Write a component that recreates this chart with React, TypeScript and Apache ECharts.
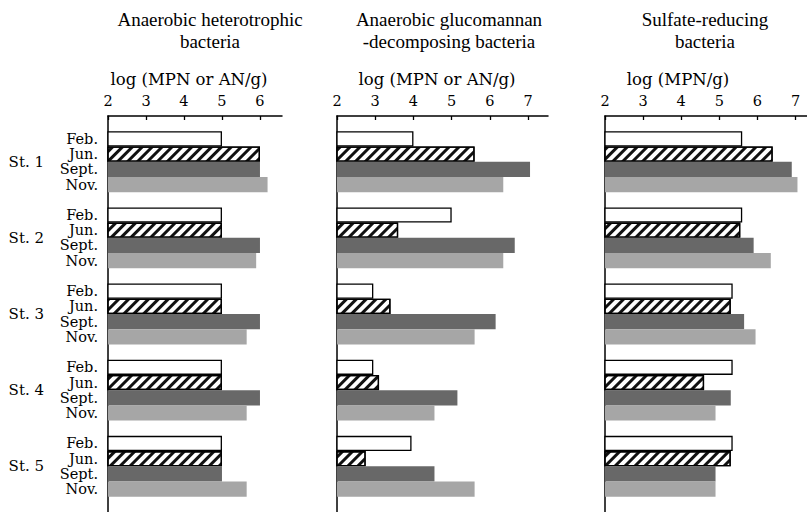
import React, { useEffect, useRef } from "react";
import * as echarts from "echarts";

const months = ["Feb.", "Jun.", "Sept.", "Nov."];
const stations = ["St. 1", "St. 2", "St. 3", "St. 4", "St. 5"];

// Anaerobic heterotrophic bacteria, log (MPN or AN/g)
const hetFeb = [5.0, 5.0, 5.0, 5.0, 5.0];
const hetJun = [6.0, 5.0, 5.0, 5.0, 5.0];
const hetSept = [6.0, 6.0, 6.0, 6.0, 5.0];
const hetNov = [6.2, 5.9, 5.65, 5.65, 5.65];

// Anaerobic glucomannan-decomposing bacteria, log (MPN or AN/g)
const gluFeb = [4.0, 5.0, 2.95, 2.95, 3.95];
const gluJun = [5.6, 3.6, 3.4, 3.1, 2.75];
const gluSept = [7.05, 6.65, 6.15, 5.15, 4.55];
const gluNov = [6.35, 6.35, 5.6, 4.55, 5.6];

// Sulfate-reducing bacteria, log (MPN/g)
const sulFeb = [5.6, 5.6, 5.35, 5.35, 5.35];
const sulJun = [6.4, 5.55, 5.3, 4.6, 5.3];
const sulSept = [6.9, 5.9, 5.65, 5.3, 4.9];
const sulNov = [7.05, 6.35, 5.95, 4.9, 4.9];

const panelTitles = [
  ["Anaerobic heterotrophic", "bacteria"],
  ["Anaerobic glucomannan", "-decomposing bacteria"],
  ["Sulfate-reducing", "bacteria"],
];
const axisNames = ["log (MPN or AN/g)", "log (MPN or AN/g)", "log (MPN/g)"];
const tickValues = [
  [2, 3, 4, 5, 6],
  [2, 3, 4, 5, 6, 7],
  [2, 3, 4, 5, 6, 7],
];
const axisMin = 2;
const axisMax = [6.58, 7.52, 7.3];

const panelData = [
  [hetFeb, hetJun, hetSept, hetNov],
  [gluFeb, gluJun, gluSept, gluNov],
  [sulFeb, sulJun, sulSept, sulNov],
];

// layout
const gridLeft = [108, 337, 605];
const gridWidth = [174, 211, 202];
const gridTop = 116;
const slotH = 15.3;
const SLOTS_PER_STATION = 5; // blank + 4 months
const totalSlots = stations.length * SLOTS_PER_STATION + 1;
const titleX = [210, 449, 705];
const nameX = [189, 437, 678];

const SERIF = "'DejaVu Serif', 'Liberation Serif', serif";
const TITLE_FONT = "'Liberation Serif', 'DejaVu Serif', serif";

const slotLabels: string[] = [];
stations.forEach(() => {
  slotLabels.push("");
  months.forEach((m) => slotLabels.push(m));
});
slotLabels.push("");

function seriesValues(vals: number[], monthIdx: number) {
  const arr: (number | string)[] = new Array(totalSlots).fill("-");
  vals.forEach((v, s) => {
    arr[s * SLOTS_PER_STATION + 1 + monthIdx] = v;
  });
  return arr;
}

const monthStyles: any[] = [
  { color: "#ffffff", borderColor: "#000", borderWidth: 1.3 },
  {
    color: "#ffffff",
    borderColor: "#000",
    borderWidth: 1.3,
    decal: {
      symbol: "rect",
      symbolSize: 1,
      color: "#111",
      backgroundColor: "#fff",
      dashArrayX: [1, 0],
      dashArrayY: [2.2, 3.6],
      rotation: -Math.PI / 4,
    },
  },
  { color: "#686868" },
  { color: "#a6a6a6" },
];

export default function App() {
  const ref = useRef<HTMLDivElement>(null);
  useEffect(() => {
    if (!ref.current) return;
    const chart = echarts.init(ref.current, null, { renderer: "svg" });
    const grids: any[] = [];
    const xAxes: any[] = [];
    const yAxes: any[] = [];
    const series: any[] = [];
    const graphics: any[] = [];
    for (let p = 0; p < 3; p++) {
      grids.push({
        left: gridLeft[p],
        top: gridTop,
        width: gridWidth[p],
        height: slotH * totalSlots,
        containLabel: false,
      });
      xAxes.push({
        type: "value",
        gridIndex: p,
        position: "top",
        min: axisMin,
        max: axisMax[p],
        axisLine: { show: true, lineStyle: { color: "#000", width: 1.5 } },
        axisTick: {
          show: true,
          inside: true,
          length: 4,
          customValues: tickValues[p],
          lineStyle: { color: "#000", width: 1.3 },
        },
        axisLabel: {
          show: true,
          customValues: tickValues[p],
          color: "#000",
          fontFamily: SERIF,
          fontSize: 14.5,
          margin: 8,
        },
        splitLine: { show: false },
      });
      yAxes.push({
        type: "category",
        gridIndex: p,
        inverse: true,
        position: "left",
        data: slotLabels,
        axisLine: { show: true, onZero: false, lineStyle: { color: "#000", width: 1.5 } },
        axisTick: { show: false },
        axisLabel: {
          show: p === 0,
          interval: 0,
          color: "#000",
          fontFamily: SERIF,
          fontSize: 14.5,
          margin: 10,
        },
        splitLine: { show: false },
      });
      months.forEach((m, mi) => {
        series.push({
          type: "bar",
          name: m,
          xAxisIndex: p,
          yAxisIndex: p,
          data: seriesValues(panelData[p][mi], mi),
          barGap: "-100%",
          barCategoryGap: "0%",
          itemStyle: monthStyles[mi],
          emphasis: { disabled: true },
        });
      });
      graphics.push(
        {
          type: "text",
          x: titleX[p],
          y: 19,
          style: {
            text: panelTitles[p][0],
            align: "center",
            verticalAlign: "middle",
            fontFamily: TITLE_FONT,
            fontSize: 19,
            fill: "#000",
          },
        },
        {
          type: "text",
          x: titleX[p],
          y: 41,
          style: {
            text: panelTitles[p][1],
            align: "center",
            verticalAlign: "middle",
            fontFamily: TITLE_FONT,
            fontSize: 19,
            fill: "#000",
          },
        },
        {
          type: "text",
          x: nameX[p],
          y: 79,
          style: {
            text: axisNames[p],
            align: "center",
            verticalAlign: "middle",
            fontFamily: SERIF,
            fontSize: 16.5,
            fill: "#000",
          },
        }
      );
    }
    // station labels: value axis over the same slot scale
    const stationCenters = stations.map((_, i) => i * SLOTS_PER_STATION + 3);
    yAxes.push({
      type: "value",
      gridIndex: 0,
      inverse: true,
      position: "left",
      min: 0,
      max: totalSlots,
      axisLine: { show: false },
      axisTick: { show: false },
      splitLine: { show: false },
      axisLabel: {
        show: true,
        customValues: stationCenters,
        formatter: (v: number) => {
          const idx = stationCenters.indexOf(Math.round(v));
          return idx >= 0 ? stations[idx] : "";
        },
        color: "#000",
        fontFamily: SERIF,
        fontSize: 15,
        margin: 64,
      },
    });

    chart.setOption({
      animation: false,
      backgroundColor: "#fff",
      grid: grids,
      xAxis: xAxes,
      yAxis: yAxes,
      series,
      graphic: graphics,
    });
    return () => chart.dispose();
  }, []);
  return (
    <div
      ref={ref}
      style={{ position: "fixed", left: 0, top: 0, width: 807, height: 512 }}
    />
  );
}
